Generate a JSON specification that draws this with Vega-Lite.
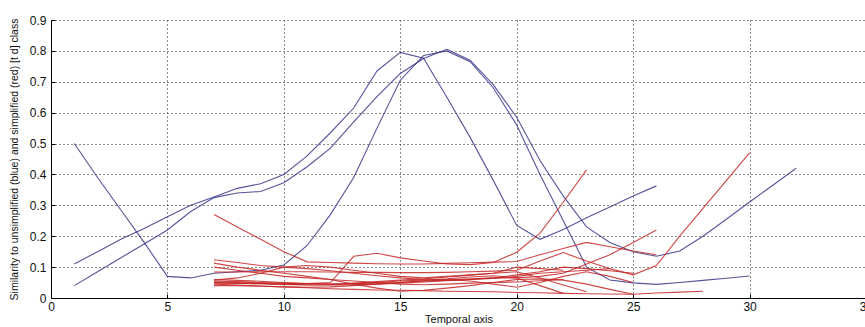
{
  "$schema": "https://vega.github.io/schema/vega-lite/v6.json",
  "width": 815,
  "height": 278,
  "autosize": {"type": "none"},
  "padding": {"left": 51, "top": 20, "right": 0, "bottom": 29},
  "background": "white",
  "config": {
    "view": {"stroke": null},
    "font": "Liberation Sans",
    "axis": {
      "domainColor": "#000",
      "domainWidth": 1,
      "tickColor": "#000",
      "tickSize": -4,
      "labelFont": "Liberation Sans",
      "labelFontSize": 12,
      "labelColor": "#111",
      "titleFont": "Liberation Sans",
      "titleFontWeight": "normal",
      "titleColor": "#111",
      "grid": true,
      "gridColor": "#000",
      "gridDash": [1, 3],
      "gridOpacity": 0.9,
      "gridWidth": 1
    }
  },
  "data": {
    "values": [
      {"s":"A","c":"blue","x":1,"y":0.5},{"s":"A","c":"blue","x":2,"y":0.39},{"s":"A","c":"blue","x":3,"y":0.285},{"s":"A","c":"blue","x":4,"y":0.18},{"s":"A","c":"blue","x":5,"y":0.07},{"s":"A","c":"blue","x":6,"y":0.065},{"s":"A","c":"blue","x":7,"y":0.08},{"s":"A","c":"blue","x":8,"y":0.085},{"s":"A","c":"blue","x":9,"y":0.09},{"s":"A","c":"blue","x":10,"y":0.107},{"s":"A","c":"blue","x":11,"y":0.17},{"s":"A","c":"blue","x":12,"y":0.27},{"s":"A","c":"blue","x":13,"y":0.39},{"s":"A","c":"blue","x":14,"y":0.55},{"s":"A","c":"blue","x":15,"y":0.705},{"s":"A","c":"blue","x":16,"y":0.785},{"s":"A","c":"blue","x":17,"y":0.8},{"s":"A","c":"blue","x":18,"y":0.765},{"s":"A","c":"blue","x":19,"y":0.68},{"s":"A","c":"blue","x":20,"y":0.56},{"s":"A","c":"blue","x":21,"y":0.4},{"s":"A","c":"blue","x":22,"y":0.25},{"s":"A","c":"blue","x":23,"y":0.1},{"s":"A","c":"blue","x":24,"y":0.058},{"s":"A","c":"blue","x":25,"y":0.049},{"s":"A","c":"blue","x":26,"y":0.044},{"s":"A","c":"blue","x":27,"y":0.05},{"s":"A","c":"blue","x":28,"y":0.057},{"s":"A","c":"blue","x":29,"y":0.064},{"s":"A","c":"blue","x":30,"y":0.071},
      {"s":"B","c":"blue","x":1,"y":0.11},{"s":"B","c":"blue","x":2,"y":0.15},{"s":"B","c":"blue","x":3,"y":0.19},{"s":"B","c":"blue","x":4,"y":0.225},{"s":"B","c":"blue","x":5,"y":0.263},{"s":"B","c":"blue","x":6,"y":0.3},{"s":"B","c":"blue","x":7,"y":0.327},{"s":"B","c":"blue","x":8,"y":0.355},{"s":"B","c":"blue","x":9,"y":0.37},{"s":"B","c":"blue","x":10,"y":0.4},{"s":"B","c":"blue","x":11,"y":0.46},{"s":"B","c":"blue","x":12,"y":0.535},{"s":"B","c":"blue","x":13,"y":0.615},{"s":"B","c":"blue","x":14,"y":0.735},{"s":"B","c":"blue","x":15,"y":0.795},{"s":"B","c":"blue","x":16,"y":0.776},{"s":"B","c":"blue","x":17,"y":0.65},{"s":"B","c":"blue","x":18,"y":0.52},{"s":"B","c":"blue","x":19,"y":0.38},{"s":"B","c":"blue","x":20,"y":0.235},{"s":"B","c":"blue","x":21,"y":0.19},{"s":"B","c":"blue","x":22,"y":0.222},{"s":"B","c":"blue","x":23,"y":0.26},{"s":"B","c":"blue","x":24,"y":0.295},{"s":"B","c":"blue","x":25,"y":0.33},{"s":"B","c":"blue","x":26,"y":0.363},
      {"s":"C","c":"blue","x":1,"y":0.04},{"s":"C","c":"blue","x":2,"y":0.085},{"s":"C","c":"blue","x":3,"y":0.13},{"s":"C","c":"blue","x":4,"y":0.175},{"s":"C","c":"blue","x":5,"y":0.22},{"s":"C","c":"blue","x":6,"y":0.28},{"s":"C","c":"blue","x":7,"y":0.325},{"s":"C","c":"blue","x":8,"y":0.34},{"s":"C","c":"blue","x":9,"y":0.345},{"s":"C","c":"blue","x":10,"y":0.373},{"s":"C","c":"blue","x":11,"y":0.425},{"s":"C","c":"blue","x":12,"y":0.485},{"s":"C","c":"blue","x":13,"y":0.57},{"s":"C","c":"blue","x":14,"y":0.652},{"s":"C","c":"blue","x":15,"y":0.727},{"s":"C","c":"blue","x":16,"y":0.775},{"s":"C","c":"blue","x":17,"y":0.805},{"s":"C","c":"blue","x":18,"y":0.77},{"s":"C","c":"blue","x":19,"y":0.69},{"s":"C","c":"blue","x":20,"y":0.585},{"s":"C","c":"blue","x":21,"y":0.445},{"s":"C","c":"blue","x":22,"y":0.33},{"s":"C","c":"blue","x":23,"y":0.23},{"s":"C","c":"blue","x":24,"y":0.18},{"s":"C","c":"blue","x":25,"y":0.15},{"s":"C","c":"blue","x":26,"y":0.135},{"s":"C","c":"blue","x":27,"y":0.152},{"s":"C","c":"blue","x":28,"y":0.2},{"s":"C","c":"blue","x":29,"y":0.255},{"s":"C","c":"blue","x":30,"y":0.311},{"s":"C","c":"blue","x":31,"y":0.365},{"s":"C","c":"blue","x":32,"y":0.42},
      {"s":"r1","c":"red","x":7,"y":0.27},{"s":"r1","c":"red","x":8,"y":0.23},{"s":"r1","c":"red","x":9,"y":0.19},{"s":"r1","c":"red","x":10,"y":0.15},{"s":"r1","c":"red","x":11,"y":0.117},{"s":"r1","c":"red","x":12,"y":0.115},{"s":"r1","c":"red","x":13,"y":0.113},{"s":"r1","c":"red","x":14,"y":0.111},{"s":"r1","c":"red","x":15,"y":0.11},{"s":"r1","c":"red","x":16,"y":0.11},{"s":"r1","c":"red","x":17,"y":0.112},{"s":"r1","c":"red","x":18,"y":0.114},{"s":"r1","c":"red","x":19,"y":0.116},{"s":"r1","c":"red","x":20,"y":0.118},{"s":"r1","c":"red","x":21,"y":0.14},{"s":"r1","c":"red","x":22,"y":0.16},{"s":"r1","c":"red","x":23,"y":0.18},{"s":"r1","c":"red","x":24,"y":0.166},{"s":"r1","c":"red","x":25,"y":0.152},{"s":"r1","c":"red","x":26,"y":0.14},
      {"s":"r2","c":"red","x":7,"y":0.05},{"s":"r2","c":"red","x":8,"y":0.048},{"s":"r2","c":"red","x":9,"y":0.046},{"s":"r2","c":"red","x":10,"y":0.045},{"s":"r2","c":"red","x":11,"y":0.047},{"s":"r2","c":"red","x":12,"y":0.05},{"s":"r2","c":"red","x":13,"y":0.135},{"s":"r2","c":"red","x":14,"y":0.145},{"s":"r2","c":"red","x":15,"y":0.13},{"s":"r2","c":"red","x":16,"y":0.12},{"s":"r2","c":"red","x":17,"y":0.11},{"s":"r2","c":"red","x":18,"y":0.108},{"s":"r2","c":"red","x":19,"y":0.115},{"s":"r2","c":"red","x":20,"y":0.148},{"s":"r2","c":"red","x":21,"y":0.21},{"s":"r2","c":"red","x":22,"y":0.31},{"s":"r2","c":"red","x":23,"y":0.415},
      {"s":"r3","c":"red","x":7,"y":0.084},{"s":"r3","c":"red","x":8,"y":0.084},{"s":"r3","c":"red","x":9,"y":0.085},{"s":"r3","c":"red","x":10,"y":0.085},{"s":"r3","c":"red","x":11,"y":0.085},{"s":"r3","c":"red","x":12,"y":0.084},{"s":"r3","c":"red","x":13,"y":0.083},{"s":"r3","c":"red","x":14,"y":0.083},{"s":"r3","c":"red","x":15,"y":0.082},{"s":"r3","c":"red","x":16,"y":0.082},{"s":"r3","c":"red","x":17,"y":0.083},{"s":"r3","c":"red","x":18,"y":0.085},{"s":"r3","c":"red","x":19,"y":0.087},{"s":"r3","c":"red","x":20,"y":0.09},{"s":"r3","c":"red","x":21,"y":0.12},{"s":"r3","c":"red","x":22,"y":0.147},{"s":"r3","c":"red","x":23,"y":0.12},{"s":"r3","c":"red","x":24,"y":0.095},{"s":"r3","c":"red","x":25,"y":0.075},{"s":"r3","c":"red","x":26,"y":0.105},{"s":"r3","c":"red","x":27,"y":0.2},{"s":"r3","c":"red","x":28,"y":0.29},{"s":"r3","c":"red","x":29,"y":0.38},{"s":"r3","c":"red","x":30,"y":0.47},
      {"s":"r4","c":"red","x":7,"y":0.06},{"s":"r4","c":"red","x":8,"y":0.057},{"s":"r4","c":"red","x":9,"y":0.054},{"s":"r4","c":"red","x":10,"y":0.05},{"s":"r4","c":"red","x":11,"y":0.047},{"s":"r4","c":"red","x":12,"y":0.045},{"s":"r4","c":"red","x":13,"y":0.046},{"s":"r4","c":"red","x":14,"y":0.048},{"s":"r4","c":"red","x":15,"y":0.05},{"s":"r4","c":"red","x":16,"y":0.054},{"s":"r4","c":"red","x":17,"y":0.058},{"s":"r4","c":"red","x":18,"y":0.062},{"s":"r4","c":"red","x":19,"y":0.065},{"s":"r4","c":"red","x":20,"y":0.065},{"s":"r4","c":"red","x":21,"y":0.07},{"s":"r4","c":"red","x":22,"y":0.08},{"s":"r4","c":"red","x":23,"y":0.11},{"s":"r4","c":"red","x":24,"y":0.14},{"s":"r4","c":"red","x":25,"y":0.18},{"s":"r4","c":"red","x":26,"y":0.22},
      {"s":"r5","c":"red","x":7,"y":0.045},{"s":"r5","c":"red","x":8,"y":0.042},{"s":"r5","c":"red","x":9,"y":0.039},{"s":"r5","c":"red","x":10,"y":0.036},{"s":"r5","c":"red","x":11,"y":0.033},{"s":"r5","c":"red","x":12,"y":0.03},{"s":"r5","c":"red","x":13,"y":0.028},{"s":"r5","c":"red","x":14,"y":0.026},{"s":"r5","c":"red","x":15,"y":0.025},{"s":"r5","c":"red","x":16,"y":0.024},{"s":"r5","c":"red","x":17,"y":0.022},{"s":"r5","c":"red","x":18,"y":0.021},{"s":"r5","c":"red","x":19,"y":0.02},{"s":"r5","c":"red","x":20,"y":0.018},{"s":"r5","c":"red","x":21,"y":0.017},{"s":"r5","c":"red","x":22,"y":0.015},{"s":"r5","c":"red","x":23,"y":0.014},{"s":"r5","c":"red","x":24,"y":0.013},{"s":"r5","c":"red","x":25,"y":0.012},{"s":"r5","c":"red","x":26,"y":0.016},{"s":"r5","c":"red","x":27,"y":0.019},{"s":"r5","c":"red","x":28,"y":0.022},
      {"s":"r6","c":"red","x":7,"y":0.113},{"s":"r6","c":"red","x":8,"y":0.1},{"s":"r6","c":"red","x":9,"y":0.09},{"s":"r6","c":"red","x":10,"y":0.08},{"s":"r6","c":"red","x":11,"y":0.07},{"s":"r6","c":"red","x":12,"y":0.06},{"s":"r6","c":"red","x":13,"y":0.045},{"s":"r6","c":"red","x":14,"y":0.032},{"s":"r6","c":"red","x":15,"y":0.022},{"s":"r6","c":"red","x":16,"y":0.025},{"s":"r6","c":"red","x":17,"y":0.032},{"s":"r6","c":"red","x":18,"y":0.04},{"s":"r6","c":"red","x":19,"y":0.05},{"s":"r6","c":"red","x":20,"y":0.06},{"s":"r6","c":"red","x":21,"y":0.062},{"s":"r6","c":"red","x":22,"y":0.058},{"s":"r6","c":"red","x":23,"y":0.045},{"s":"r6","c":"red","x":24,"y":0.028},{"s":"r6","c":"red","x":25,"y":0.012},
      {"s":"r7","c":"red","x":7,"y":0.055},{"s":"r7","c":"red","x":8,"y":0.053},{"s":"r7","c":"red","x":9,"y":0.05},{"s":"r7","c":"red","x":10,"y":0.048},{"s":"r7","c":"red","x":11,"y":0.046},{"s":"r7","c":"red","x":12,"y":0.045},{"s":"r7","c":"red","x":13,"y":0.046},{"s":"r7","c":"red","x":14,"y":0.05},{"s":"r7","c":"red","x":15,"y":0.055},{"s":"r7","c":"red","x":16,"y":0.058},{"s":"r7","c":"red","x":17,"y":0.062},{"s":"r7","c":"red","x":18,"y":0.068},{"s":"r7","c":"red","x":19,"y":0.072},{"s":"r7","c":"red","x":20,"y":0.065},{"s":"r7","c":"red","x":21,"y":0.04},{"s":"r7","c":"red","x":22,"y":0.015},
      {"s":"r8","c":"red","x":7,"y":0.048},{"s":"r8","c":"red","x":8,"y":0.047},{"s":"r8","c":"red","x":9,"y":0.046},{"s":"r8","c":"red","x":10,"y":0.044},{"s":"r8","c":"red","x":11,"y":0.042},{"s":"r8","c":"red","x":12,"y":0.043},{"s":"r8","c":"red","x":13,"y":0.048},{"s":"r8","c":"red","x":14,"y":0.053},{"s":"r8","c":"red","x":15,"y":0.058},{"s":"r8","c":"red","x":16,"y":0.062},{"s":"r8","c":"red","x":17,"y":0.068},{"s":"r8","c":"red","x":18,"y":0.074},{"s":"r8","c":"red","x":19,"y":0.08},{"s":"r8","c":"red","x":20,"y":0.085},{"s":"r8","c":"red","x":21,"y":0.065},{"s":"r8","c":"red","x":22,"y":0.042},{"s":"r8","c":"red","x":23,"y":0.02},
      {"s":"r9","c":"red","x":7,"y":0.124},{"s":"r9","c":"red","x":8,"y":0.115},{"s":"r9","c":"red","x":9,"y":0.105},{"s":"r9","c":"red","x":10,"y":0.1},{"s":"r9","c":"red","x":11,"y":0.095},{"s":"r9","c":"red","x":12,"y":0.088},{"s":"r9","c":"red","x":13,"y":0.08},{"s":"r9","c":"red","x":14,"y":0.072},{"s":"r9","c":"red","x":15,"y":0.065},{"s":"r9","c":"red","x":16,"y":0.06},{"s":"r9","c":"red","x":17,"y":0.058},{"s":"r9","c":"red","x":18,"y":0.06},{"s":"r9","c":"red","x":19,"y":0.065},{"s":"r9","c":"red","x":20,"y":0.075},{"s":"r9","c":"red","x":21,"y":0.085},{"s":"r9","c":"red","x":22,"y":0.1},{"s":"r9","c":"red","x":23,"y":0.095},{"s":"r9","c":"red","x":24,"y":0.088},{"s":"r9","c":"red","x":25,"y":0.08},
      {"s":"r10","c":"red","x":7,"y":0.04},{"s":"r10","c":"red","x":8,"y":0.04},{"s":"r10","c":"red","x":9,"y":0.038},{"s":"r10","c":"red","x":10,"y":0.036},{"s":"r10","c":"red","x":11,"y":0.035},{"s":"r10","c":"red","x":12,"y":0.036},{"s":"r10","c":"red","x":13,"y":0.04},{"s":"r10","c":"red","x":14,"y":0.045},{"s":"r10","c":"red","x":15,"y":0.05},{"s":"r10","c":"red","x":16,"y":0.056},{"s":"r10","c":"red","x":17,"y":0.06},{"s":"r10","c":"red","x":18,"y":0.055},{"s":"r10","c":"red","x":19,"y":0.045},{"s":"r10","c":"red","x":20,"y":0.035},{"s":"r10","c":"red","x":21,"y":0.05},{"s":"r10","c":"red","x":22,"y":0.07},{"s":"r10","c":"red","x":23,"y":0.085},{"s":"r10","c":"red","x":24,"y":0.07},{"s":"r10","c":"red","x":25,"y":0.05},
      {"s":"r11","c":"red","x":7,"y":0.052},{"s":"r11","c":"red","x":8,"y":0.05},{"s":"r11","c":"red","x":9,"y":0.048},{"s":"r11","c":"red","x":10,"y":0.045},{"s":"r11","c":"red","x":11,"y":0.043},{"s":"r11","c":"red","x":12,"y":0.042},{"s":"r11","c":"red","x":13,"y":0.043},{"s":"r11","c":"red","x":14,"y":0.045},{"s":"r11","c":"red","x":15,"y":0.048},{"s":"r11","c":"red","x":16,"y":0.052},{"s":"r11","c":"red","x":17,"y":0.056},{"s":"r11","c":"red","x":18,"y":0.06},{"s":"r11","c":"red","x":19,"y":0.063},{"s":"r11","c":"red","x":20,"y":0.07},{"s":"r11","c":"red","x":21,"y":0.08},{"s":"r11","c":"red","x":22,"y":0.085},{"s":"r11","c":"red","x":23,"y":0.09},{"s":"r11","c":"red","x":24,"y":0.095},
      {"s":"r12","c":"red","x":7,"y":0.1},{"s":"r12","c":"red","x":8,"y":0.09},{"s":"r12","c":"red","x":9,"y":0.08},{"s":"r12","c":"red","x":10,"y":0.07},{"s":"r12","c":"red","x":11,"y":0.065},{"s":"r12","c":"red","x":12,"y":0.06},{"s":"r12","c":"red","x":13,"y":0.055},{"s":"r12","c":"red","x":14,"y":0.05},{"s":"r12","c":"red","x":15,"y":0.045},{"s":"r12","c":"red","x":16,"y":0.043},{"s":"r12","c":"red","x":17,"y":0.045},{"s":"r12","c":"red","x":18,"y":0.048},{"s":"r12","c":"red","x":19,"y":0.05},{"s":"r12","c":"red","x":20,"y":0.052},{"s":"r12","c":"red","x":21,"y":0.056},{"s":"r12","c":"red","x":22,"y":0.06},
      {"s":"r13","c":"red","x":7,"y":0.058},{"s":"r13","c":"red","x":8,"y":0.065},{"s":"r13","c":"red","x":9,"y":0.08},{"s":"r13","c":"red","x":10,"y":0.1},{"s":"r13","c":"red","x":11,"y":0.105},{"s":"r13","c":"red","x":12,"y":0.1},{"s":"r13","c":"red","x":13,"y":0.09},{"s":"r13","c":"red","x":14,"y":0.08},{"s":"r13","c":"red","x":15,"y":0.07},{"s":"r13","c":"red","x":16,"y":0.065},{"s":"r13","c":"red","x":17,"y":0.07},{"s":"r13","c":"red","x":18,"y":0.075},{"s":"r13","c":"red","x":19,"y":0.08},{"s":"r13","c":"red","x":20,"y":0.1},{"s":"r13","c":"red","x":21,"y":0.095},{"s":"r13","c":"red","x":22,"y":0.09}
    ]
  },
  "mark": {"type": "line", "strokeWidth": 1.1, "clip": true},
  "encoding": {
    "x": {
      "field": "x", "type": "quantitative",
      "scale": {"domain": [0, 35], "nice": false, "zero": false},
      "axis": {"values": [0, 5, 10, 15, 20, 25, 30, 35], "labelPadding": 7, "title": "Temporal axis", "titleFontSize": 11, "titlePadding": 1, "labelFlush": false}
    },
    "y": {
      "field": "y", "type": "quantitative",
      "scale": {"domain": [0, 0.9], "nice": false},
      "axis": {"values": [0, 0.1, 0.2, 0.3, 0.4, 0.5, 0.6, 0.7, 0.8, 0.9], "format": "~g", "labelPadding": 9, "title": "Similarity to unsimplified (blue) and simplified (red) [t d] class", "titleFontSize": 10.5, "titleX": -32, "labelFlush": false}
    },
    "color": {
      "field": "c", "type": "nominal",
      "scale": {"domain": ["blue", "red"], "range": ["#36368a", "#c42626"]},
      "legend": null
    },
    "detail": {"field": "s"},
    "order": {"field": "x"},
    "opacity": {"value": 0.85}
  }
}
